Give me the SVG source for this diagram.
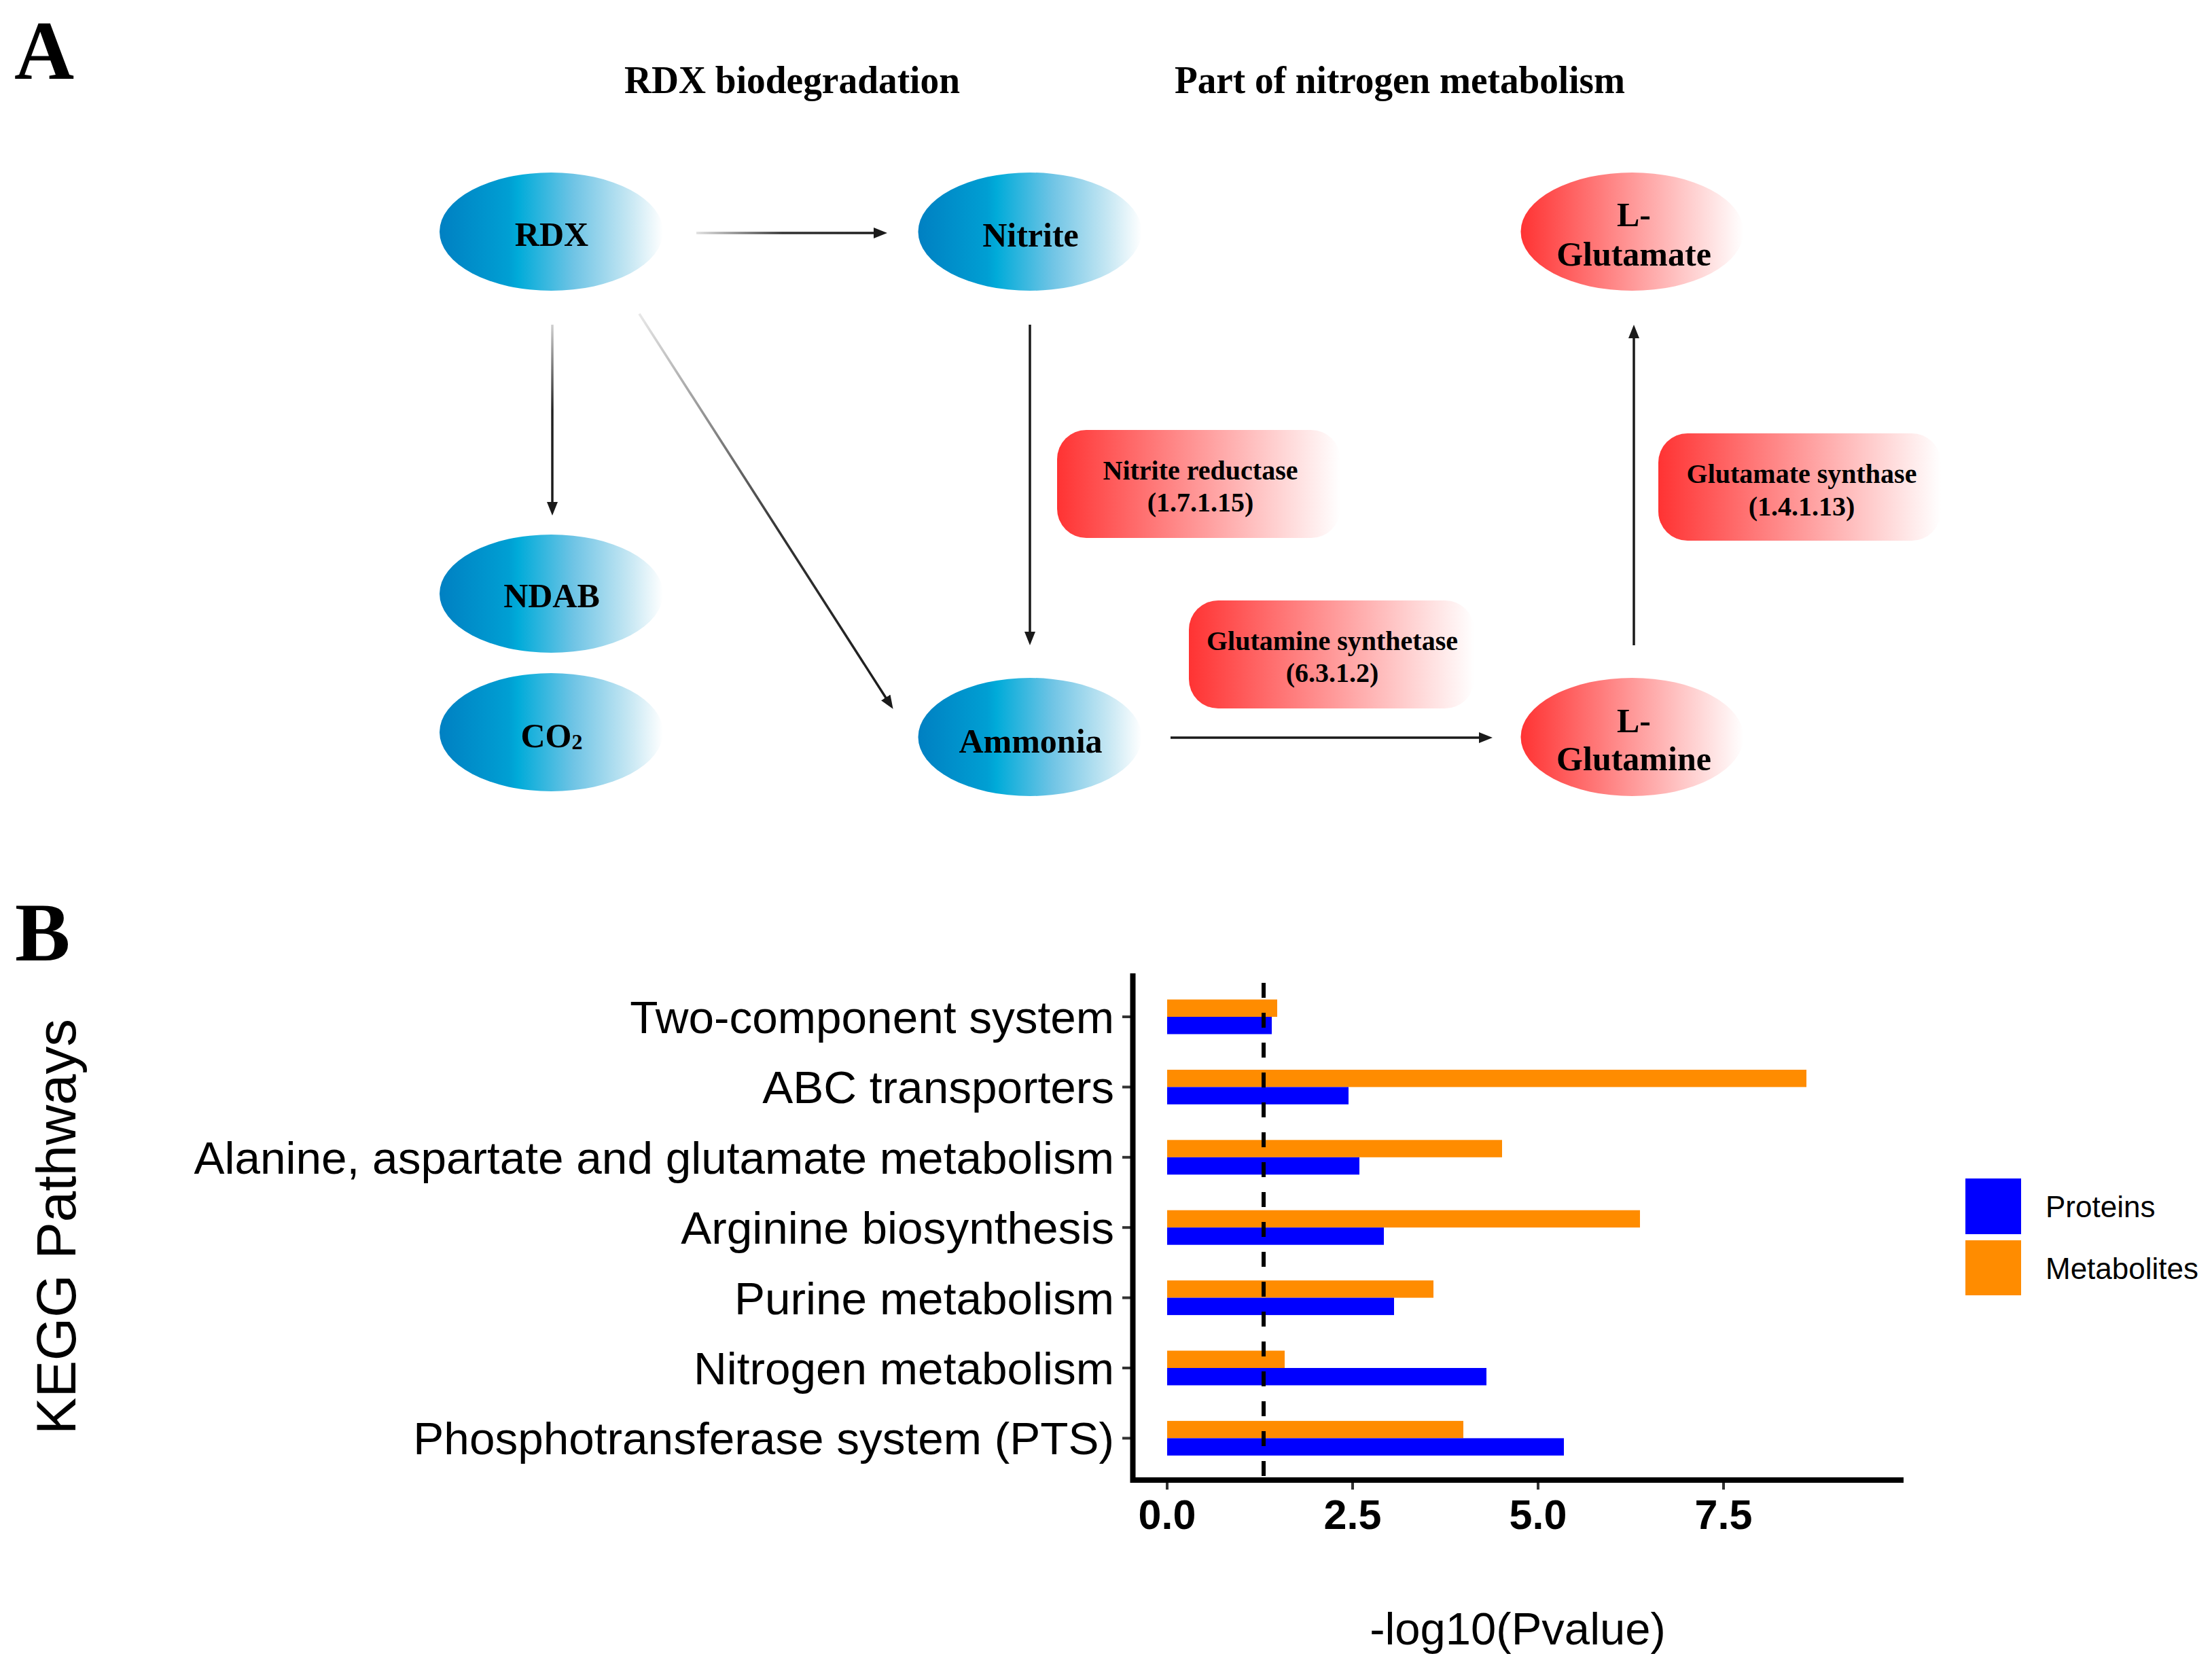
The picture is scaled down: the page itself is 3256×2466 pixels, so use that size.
<svg xmlns="http://www.w3.org/2000/svg" width="3256" height="2466" viewBox="0 0 3256 2466">
<style>
.serif{font-family:"Liberation Serif","Times New Roman",serif;font-weight:bold;fill:#000}
.panel{font-size:122px}
.title{font-size:56px}
.node{font-size:50px;text-anchor:middle}
.enz{font-size:40px;text-anchor:middle}
.sans{font-family:"Liberation Sans",Arial,sans-serif;fill:#000}
.ylab{font-size:67.5px;text-anchor:end}
.xtick{font-size:61px;font-weight:bold;text-anchor:middle}
.leg{font-size:44px}
.conn{fill:none;stroke-width:3.5}
.tick{stroke:#333;stroke-width:4}
.axis{stroke:#000;stroke-width:8;fill:none}
.prot{fill:#0000ff}
.metab{fill:#ff8c00}
</style>
<defs>
<linearGradient id="gBlue" x1="0" y1="0" x2="1" y2="0">
<stop offset="0" stop-color="#0080c2"/>
<stop offset="0.31" stop-color="#009fd3"/>
<stop offset="0.35" stop-color="#00abd9"/>
<stop offset="0.6" stop-color="#6fc4e5"/>
<stop offset="0.85" stop-color="#c6e7f3"/>
<stop offset="1" stop-color="#ffffff"/>
</linearGradient>
<linearGradient id="gRed" x1="0" y1="0" x2="1" y2="0">
<stop offset="0" stop-color="#ff3333"/>
<stop offset="0.5" stop-color="#ff9898"/>
<stop offset="1" stop-color="#ffffff"/>
</linearGradient>
<linearGradient id="gH" gradientUnits="userSpaceOnUse" x1="1025" y1="0" x2="1306" y2="0">
<stop offset="0" stop-color="#e0e0e0"/>
<stop offset="0.45" stop-color="#333"/>
<stop offset="1" stop-color="#1a1a1a"/>
</linearGradient>
<linearGradient id="gV" gradientUnits="userSpaceOnUse" x1="0" y1="478" x2="0" y2="759">
<stop offset="0" stop-color="#d0d0d0"/>
<stop offset="0.45" stop-color="#222"/>
<stop offset="1" stop-color="#1a1a1a"/>
</linearGradient>
<linearGradient id="gD" gradientUnits="userSpaceOnUse" x1="941" y1="462" x2="1315" y2="1044">
<stop offset="0" stop-color="#e8e8e8"/>
<stop offset="0.55" stop-color="#333"/>
<stop offset="1" stop-color="#1a1a1a"/>
</linearGradient>
<marker id="arr" viewBox="0 0 20 16" markerUnits="userSpaceOnUse" markerWidth="20" markerHeight="16" refX="6" refY="8" orient="auto">
<path d="M0,0 L20,8 L0,16 z" fill="#1a1a1a"/>
</marker>
</defs>
<rect width="3256" height="2466" fill="#fff"/>

<text class="serif panel" x="21" y="116">A</text>
<text class="serif title" x="919" y="137" textLength="494" lengthAdjust="spacingAndGlyphs">RDX biodegradation</text>
<text class="serif title" x="1729" y="137" textLength="663" lengthAdjust="spacingAndGlyphs">Part of nitrogen metabolism</text>

<g id="connectors">
<path class="conn" stroke="url(#gH)" d="M1025,343 L1292,343" marker-end="url(#arr)"/>
<path class="conn" stroke="url(#gV)" d="M813,478 L813,745" marker-end="url(#arr)"/>
<path class="conn" stroke="url(#gD)" d="M941,462 L1307,1032" marker-end="url(#arr)"/>
<path class="conn" stroke="#1a1a1a" d="M1516,478 L1516,936" marker-end="url(#arr)"/>
<path class="conn" stroke="#1a1a1a" d="M1723,1086 L2183,1086" marker-end="url(#arr)"/>
<path class="conn" stroke="#1a1a1a" d="M2405,950 L2405,492" marker-end="url(#arr)"/>
</g>

<g id="node-rdx">
<ellipse cx="811.5" cy="341" rx="164.5" ry="87" fill="url(#gBlue)"/>
<text class="serif node" x="812" y="362">RDX</text>
</g>
<g id="node-nitrite">
<ellipse cx="1516" cy="341" rx="164.5" ry="87" fill="url(#gBlue)"/>
<text class="serif node" x="1517" y="363">Nitrite</text>
</g>
<g id="node-ndab">
<ellipse cx="811.5" cy="874" rx="164.5" ry="87" fill="url(#gBlue)"/>
<text class="serif node" x="812" y="894">NDAB</text>
</g>
<g id="node-co2">
<ellipse cx="811.5" cy="1078" rx="164.5" ry="87" fill="url(#gBlue)"/>
<text class="serif node" x="812" y="1100">CO<tspan font-size="32" dy="3">2</tspan></text>
</g>
<g id="node-ammonia">
<ellipse cx="1516" cy="1085" rx="164.5" ry="87" fill="url(#gBlue)"/>
<text class="serif node" x="1517" y="1108">Ammonia</text>
</g>
<g id="node-glutamate">
<ellipse cx="2402.5" cy="341" rx="164" ry="87" fill="url(#gRed)"/>
<text class="serif node" x="2405" y="333">L-</text>
<text class="serif node" x="2405" y="391">Glutamate</text>
</g>
<g id="node-glutamine">
<ellipse cx="2402.5" cy="1085" rx="164" ry="87" fill="url(#gRed)"/>
<text class="serif node" x="2405" y="1078">L-</text>
<text class="serif node" x="2405" y="1134">Glutamine</text>
</g>
<g id="enz-nitrite-reductase">
<rect x="1556" y="633" width="417" height="159" rx="43" fill="url(#gRed)"/>
<text class="serif enz" x="1767" y="706">Nitrite reductase</text>
<text class="serif enz" x="1767" y="753">(1.7.1.15)</text>
</g>
<g id="enz-glutamate-synthase">
<rect x="2441" y="638" width="416" height="158" rx="43" fill="url(#gRed)"/>
<text class="serif enz" x="2652" y="711">Glutamate synthase</text>
<text class="serif enz" x="2652" y="759">(1.4.1.13)</text>
</g>
<g id="enz-glutamine-synthetase">
<rect x="1750" y="884" width="420" height="159" rx="43" fill="url(#gRed)"/>
<text class="serif enz" x="1961" y="957">Glutamine synthetase</text>
<text class="serif enz" x="1961" y="1004">(6.3.1.2)</text>
</g>

<text class="serif panel" x="22" y="1414">B</text>

<g id="chart">
<text class="sans" font-size="82" text-anchor="middle" transform="translate(111,1806) rotate(-90)" textLength="612" lengthAdjust="spacingAndGlyphs">KEGG Pathways</text>
<g id="ylabels">
<text class="sans ylab" x="1640" y="1521">Two-component system</text>
<text class="sans ylab" x="1640" y="1624">ABC transporters</text>
<text class="sans ylab" x="1640" y="1728">Alanine, aspartate and glutamate metabolism</text>
<text class="sans ylab" x="1640" y="1831">Arginine biosynthesis</text>
<text class="sans ylab" x="1640" y="1935">Purine metabolism</text>
<text class="sans ylab" x="1640" y="2038">Nitrogen metabolism</text>
<text class="sans ylab" x="1640" y="2141">Phosphotransferase system (PTS)</text>
</g>
<g id="yticks">
<line class="tick" x1="1652" y1="1497" x2="1664" y2="1497"/>
<line class="tick" x1="1652" y1="1600.4" x2="1664" y2="1600.4"/>
<line class="tick" x1="1652" y1="1703.8" x2="1664" y2="1703.8"/>
<line class="tick" x1="1652" y1="1807.2" x2="1664" y2="1807.2"/>
<line class="tick" x1="1652" y1="1910.6" x2="1664" y2="1910.6"/>
<line class="tick" x1="1652" y1="2014" x2="1664" y2="2014"/>
<line class="tick" x1="1652" y1="2117.4" x2="1664" y2="2117.4"/>
</g>
<g id="bars">
<rect class="metab" x="1718" y="1471.5" width="162" height="25.5"/>
<rect class="prot" x="1718" y="1497" width="154" height="25.5"/>
<rect class="metab" x="1718" y="1574.9" width="941" height="25.5"/>
<rect class="prot" x="1718" y="1600.4" width="267" height="25.5"/>
<rect class="metab" x="1718" y="1678.3" width="493" height="25.5"/>
<rect class="prot" x="1718" y="1703.8" width="283" height="25.5"/>
<rect class="metab" x="1718" y="1781.7" width="696" height="25.5"/>
<rect class="prot" x="1718" y="1807.2" width="319" height="25.5"/>
<rect class="metab" x="1718" y="1885.1" width="392" height="25.5"/>
<rect class="prot" x="1718" y="1910.6" width="334" height="25.5"/>
<rect class="metab" x="1718" y="1988.5" width="173" height="25.5"/>
<rect class="prot" x="1718" y="2014" width="470" height="25.5"/>
<rect class="metab" x="1718" y="2091.9" width="436" height="25.5"/>
<rect class="prot" x="1718" y="2117.4" width="584" height="25.5"/>
</g>
<line x1="1860" y1="1447" x2="1860" y2="2175" stroke="#000" stroke-width="6" stroke-dasharray="22 22"/>
<path class="axis" d="M1667.5,1433 L1667.5,2179 L2802,2179"/>
<g id="xticks">
<line class="tick" x1="1718" y1="2183" x2="1718" y2="2193"/>
<line class="tick" x1="1991" y1="2183" x2="1991" y2="2193"/>
<line class="tick" x1="2264" y1="2183" x2="2264" y2="2193"/>
<line class="tick" x1="2537" y1="2183" x2="2537" y2="2193"/>
<text class="sans xtick" x="1718" y="2251">0.0</text>
<text class="sans xtick" x="1991" y="2251">2.5</text>
<text class="sans xtick" x="2264" y="2251">5.0</text>
<text class="sans xtick" x="2537" y="2251">7.5</text>
</g>
<text class="sans" font-size="67" text-anchor="middle" x="2234" y="2421">-log10(Pvalue)</text>
<g id="legend">
<rect class="prot" x="2893" y="1735" width="82" height="82"/>
<rect class="metab" x="2893" y="1826" width="82" height="81"/>
<text class="sans leg" x="3011" y="1792">Proteins</text>
<text class="sans leg" x="3011" y="1883">Metabolites</text>
</g>
</g>
</svg>
